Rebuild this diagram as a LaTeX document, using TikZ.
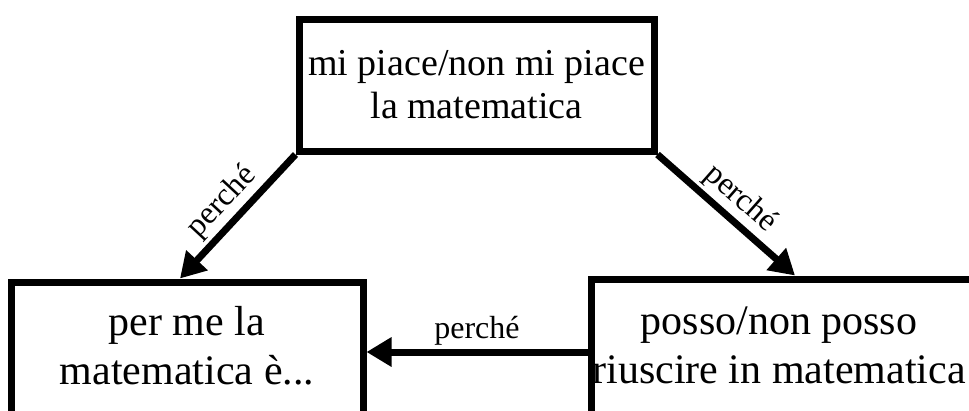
\documentclass[tikz,border=0pt]{standalone}
\usepackage{fontspec}
\setmainfont{Liberation Serif}
\usetikzlibrary{arrows.meta}

\tikzset{
  box/.style={draw, line width=7pt, inner sep=0pt},
  boxtext/.style={align=center, inner sep=0pt, font=\fontsize{42}{49}\selectfont},
  arr/.style={line width=7pt, -{Triangle[length=25pt,width=28pt]}},
  lab/.style={font=\fontsize{32}{38}\selectfont}
}

\begin{document}
\begin{tikzpicture}[x=1pt,y=1pt]
  \useasboundingbox (0,0) rectangle (969,-410);
  \clip (0,0) rectangle (969,-410);
  % the three boxes
  \node[box, minimum width=355pt, minimum height=132pt, align=center,
        font=\fontsize{38}{43}\selectfont] (piace) at (476.5,-85)
        {mi piace/non mi piace\\la matematica};
  \node[box, minimum width=352pt, minimum height=140pt] (perme) at (187,-352) {};
  \node[box, minimum width=418pt, minimum height=146pt] (posso) at (800,-352) {};
  \node[boxtext] (permetext) at (187,-346) {per me la\\matematica è...};
  \node[boxtext] (possotext) at (779,-345) {posso/non posso\\riuscire in matematica};
  % connectors
  \path[arr]
  (piace.south west) edge node [lab, sloped, above] {perché} ([xshift=-7pt]perme.north)
  (piace.south east) edge node [lab, sloped, above] {perché} ([xshift=-5pt]posso.north)
  (posso.west) edge node [lab, above] {perché} (perme.east)
  ;
\end{tikzpicture}
\end{document}
